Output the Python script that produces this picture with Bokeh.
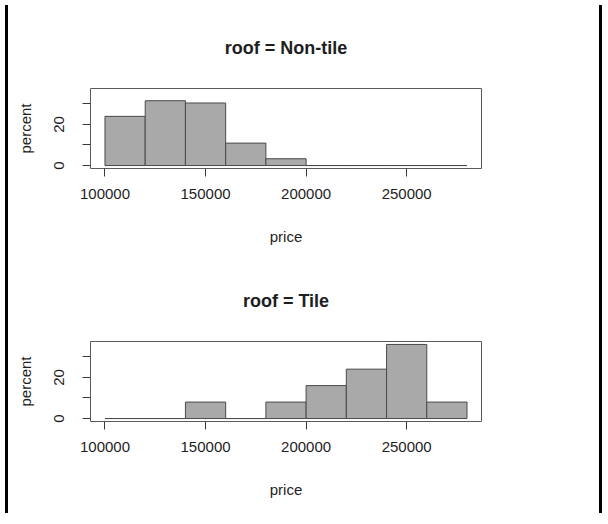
from bokeh.plotting import figure
from bokeh.layouts import column, row
from bokeh.models import Div, Range1d, FixedTicker
from bokeh.embed import file_html
from bokeh.resources import INLINE

# ---- data ----
bin_left = [100000, 120000, 140000, 160000, 180000, 200000, 220000, 240000, 260000]
bin_right = [120000, 140000, 160000, 180000, 200000, 220000, 240000, 260000, 280000]
nontile_percent = [23.9, 31.5, 30.4, 10.9, 3.3, 0, 0, 0, 0]
tile_percent = [0, 0, 8, 0, 8, 16, 24, 36, 8]
panel_titles = ["roof = Non-tile", "roof = Tile"]
x_ticks = [100000, 150000, 200000, 250000]
x_tick_labels = ["100000", "150000", "200000", "250000"]
y_ticks = [0, 10, 20, 30]
y_tick_labels = ["0", "", "20", ""]

FONT = "Liberation Sans"
TXT = "#1e1e1e"


def make_panel(title, pct):
    p = figure(width=581, height=253,
               x_range=Range1d(92800, 287200), y_range=Range1d(-1.44, 37.44),
               output_backend="svg", toolbar_location=None,
               min_border_left=77, min_border_right=113,
               min_border_top=88, min_border_bottom=85,
               title=title)
    p.quad(left=bin_left, right=bin_right, bottom=0, top=pct,
           fill_color="#a9a9a9", line_color="#4a4a4a", line_width=1)
    p.title.align = "center"
    p.title.text_font = FONT
    p.title.text_font_size = "18px"
    p.title.text_font_style = "bold"
    p.title.text_color = TXT
    p.title.standoff = 62

    p.xgrid.visible = False
    p.ygrid.visible = False
    p.outline_line_color = "#5a5a5a"
    p.outline_line_width = 1
    p.background_fill_color = "white"
    p.border_fill_color = "white"

    xa = p.xaxis[0]
    xa.ticker = FixedTicker(ticks=x_ticks)
    xa.major_label_overrides = dict(zip(x_ticks, x_tick_labels))
    xa.axis_label = "price"
    ya = p.yaxis[0]
    ya.ticker = FixedTicker(ticks=y_ticks)
    ya.major_label_overrides = dict(zip(y_ticks, y_tick_labels))
    ya.axis_label = "percent"
    ya.major_label_orientation = "vertical"
    for ax in (xa, ya):
        ax.axis_line_color = None
        ax.minor_tick_line_color = None
        ax.major_tick_in = 0
        ax.major_tick_out = 8
        ax.major_tick_line_color = "#3a3a3a"
        ax.major_label_text_font = FONT
        ax.major_label_text_font_size = "15px"
        ax.major_label_text_color = TXT
        ax.axis_label_text_font = FONT
        ax.axis_label_text_font_size = "15px"
        ax.axis_label_text_font_style = "normal"
        ax.axis_label_text_color = TXT
    xa.major_label_standoff = 12
    xa.axis_label_standoff = 26
    ya.major_label_standoff = 18
    ya.axis_label_standoff = 18
    return p


p1 = make_panel(panel_titles[0], nontile_percent)
p2 = make_panel(panel_titles[1], tile_percent)

left_bar = Div(text="", width=3, height=508, styles={"background-color": "black"})
right_bar = Div(text="", width=3, height=508, styles={"background-color": "black"})
layout = row(left_bar, column(p1, p2, spacing=0), right_bar, spacing=0)

open("out.html", "w").write(file_html(layout, INLINE))
